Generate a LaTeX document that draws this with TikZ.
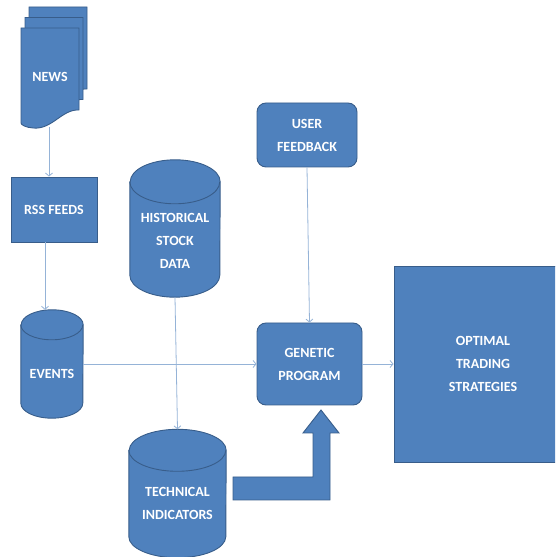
\documentclass[tikz,border=0pt]{standalone}
\usepackage{fontspec}
\setmainfont{Carlito}
\usetikzlibrary{arrows.meta}
\definecolor{boxfill}{RGB}{79,129,189}
\definecolor{boxline}{RGB}{56,93,138}
\definecolor{linkcol}{RGB}{149,179,215}
\tikzset{
  shade box/.style={draw=boxline, fill=boxfill, line width=0.9pt},
  box/.style={shade box, text=white, align=center, inner sep=0pt,
    font=\fontsize{14}{23}\selectfont\bfseries},
  rbox/.style={box, rounded corners=9pt},
  cylspace/.style={inner sep=0pt},
  lbl/.style={text=white, align=center, font=\fontsize{14}{23}\selectfont\bfseries},
  link/.style={draw=linkcol, line width=0.8pt, -{Straight Barb[length=3pt,width=7pt]}}
}
% cylinder drawn round a named node: name, x radius, y radius
\newcommand{\drum}[3]{%
  \draw[shade box] ([yshift=-#3]#1.north west) -- ([yshift=#3]#1.south west)
    arc[start angle=180, end angle=360, x radius=#2, y radius=#3]
    -- ([yshift=-#3]#1.north east)
    arc[start angle=0, end angle=180, x radius=#2, y radius=#3] -- cycle;
  \draw[draw=boxline, line width=0.9pt] ([yshift=-#3]#1.north west)
    arc[start angle=180, end angle=360, x radius=#2, y radius=#3];
}
\begin{document}
\begin{tikzpicture}[x=1pt,y=1pt]
\useasboundingbox (0,0) rectangle (555,557);
\clip (0,0) rectangle (555,557);

% stacked news pages
\foreach \dx/\dy in {8/21, 4/10.5, 0/0} {
  \draw[shade box, shift={(\dx,\dy)}] (21,529) -- (79,529) -- (79,447)
    .. controls (62,448) and (52,427) .. (33,429)
    .. controls (26,429.5) and (21,432) .. (21,434) -- cycle;
}
\node[lbl] (news) at (50,480) {NEWS};
\coordinate (newsbot) at (49,429.5);

\node[box, minimum width=86pt, minimum height=65pt] (rss) at (54,347.5) {RSS FEEDS};

\node[cylspace, minimum width=62pt, minimum height=108pt] (events) at (52,193) {};
\drum{events}{31pt}{15pt}
\node[lbl] at (52,183) {EVENTS};

\node[cylspace, minimum width=90pt, minimum height=137pt] (hist) at (175,328.5) {};
\drum{hist}{45pt}{22pt}
\node[lbl] at (175,316) {HISTORICAL\\STOCK\\DATA};

\node[cylspace, minimum width=97pt, minimum height=128pt] (tech) at (177.5,63.5) {};
\drum{tech}{48.5pt}{21pt}
\node[lbl] at (177.5,53.5) {TECHNICAL\\INDICATORS};

\node[rbox, minimum width=100pt, minimum height=64pt] (user) at (307,422) {USER\\FEEDBACK};
\node[rbox, minimum width=105pt, minimum height=82pt] (genetic) at (309.5,193) {GENETIC\\PROGRAM};
\node[box, minimum width=178pt, minimum height=196pt] (optimal) at (483,193) {OPTIMAL\\TRADING\\STRATEGIES};

% connectors
\draw[link] (newsbot) -- (newsbot |- rss.north);
\draw[link] ([xshift=-9pt]rss.south) -- ([xshift=-7pt]events.north);
\draw[link] (hist.south) -- (tech.north);
\draw[link] (events.east) -- (genetic.west);
\draw[link] (user.south) -- (genetic.north);
\draw[link] (genetic.east) -- (optimal.west);

% bent block arrow
\draw[shade box] (233,80) -- (313,80) -- (313,124) -- (303,124) -- (321,147)
  -- (339,124) -- (330,124) -- (330,57) -- (233,57) -- cycle;
\end{tikzpicture}
\end{document}
